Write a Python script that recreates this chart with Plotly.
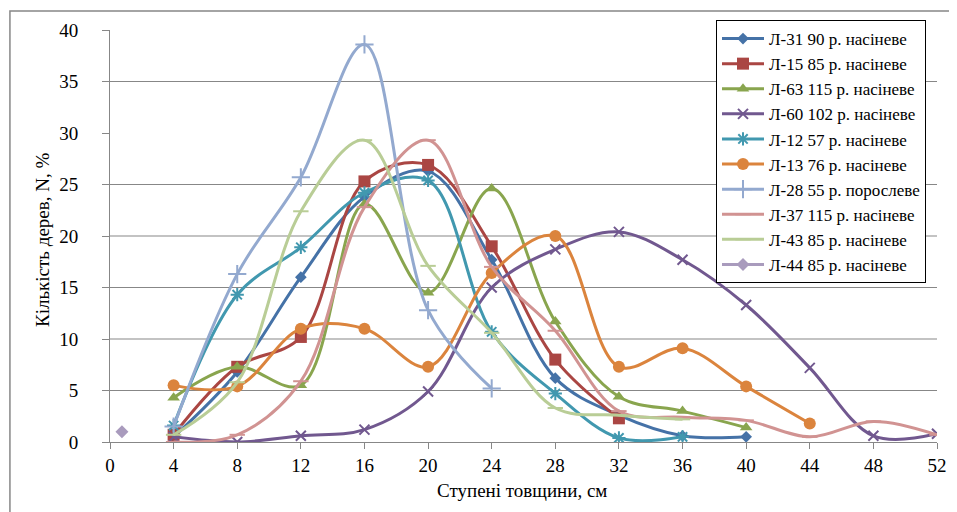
import plotly.graph_objects as go

x_steps = [4, 8, 12, 16, 20, 24, 28, 32, 36, 40, 44, 48, 52]

names = [
    "Л-31 90 р. насіневе",
    "Л-15 85 р. насіневе",
    "Л-63 115 р. насіневе",
    "Л-60 102 р. насіневе",
    "Л-12 57 р. насіневе",
    "Л-13 76 р. насіневе",
    "Л-28 55 р. порослеве",
    "Л-37 115 р. насіневе",
    "Л-43 85 р. насіневе",
    "Л-44 85 р. насіневе",
]

l31 = [0.5, 6.8, 16.0, 23.8, 26.3, 17.7, 6.2, 2.6, 0.6, 0.5]
l15 = [0.7, 7.3, 10.2, 25.3, 26.9, 19.0, 8.0, 2.3]
l63 = [4.3, 7.3, 5.5, 23.1, 14.5, 24.6, 11.7, 4.4, 3.0, 1.4]
l60 = [0.5, 0.0, 0.6, 1.2, 4.9, 15.0, 18.7, 20.4, 17.7, 13.3, 7.2, 0.6, 0.8]
l12 = [1.6, 14.3, 18.9, 24.2, 25.4, 10.7, 4.7, 0.4, 0.5]
l13 = [5.5, 5.4, 11.0, 11.0, 7.3, 16.4, 20.0, 7.3, 9.1, 5.4, 1.8]
l28 = [1.5, 16.3, 25.7, 38.6, 12.8, 5.2]
l37 = [0.0, 0.7, 5.9, 22.8, 29.3, 17.0, 10.8, 3.0, 2.4, 2.1, 0.5, 2.0, 0.7]
l43 = [0.7, 5.8, 22.4, 29.3, 17.1, 10.6, 3.3, 2.6, 2.2]
l44_x = [0.75]
l44 = [1.0]

y_ticks = [0, 5, 10, 15, 20, 25, 30, 35, 40]
y_grid = [5, 10, 15, 20, 25, 35]
x_ticks = [0, 4, 8, 12, 16, 20, 24, 28, 32, 36, 40, 44, 48, 52]

colors = ["#4572A7", "#AA4643", "#89A54E", "#71588F", "#4198AF",
          "#DB843D", "#93A9CF", "#D19392", "#B9CD96", "#A99BBD"]
symbols = ["diamond", "square", "triangle-up", "x-thin", "asterisk",
           "circle", "cross-thin", "line-ew", "line-ew", "diamond"]
sizes = [9, 12, 11, 10, 11, 12, 13, 11, 11, 10]

series = [(x_steps, l31), (x_steps, l15), (x_steps, l63), (x_steps, l60),
          (x_steps, l12), (x_steps, l13), (x_steps, l28), (x_steps, l37),
          (x_steps, l43), (l44_x, l44)]

FONT = "Liberation Serif"

fig = go.Figure()
for i, ((xs, ys), name) in enumerate(zip(series, names)):
    c = colors[i]
    thin = symbols[i] in ("x-thin", "asterisk", "cross-thin", "line-ew")
    fig.add_trace(go.Scatter(
        x=xs[:len(ys)], y=ys, name=name, mode="lines+markers",
        legendgroup=f"g{i}",
        line=dict(color=c, width=3, shape="spline", smoothing=1),
        marker=dict(symbol=symbols[i], size=sizes[i], color=c,
                    line=dict(color=c, width=2 if thin else 0)),
    ))

shapes = []
for g in y_grid:
    shapes.append(dict(type="line", xref="paper", yref="y", x0=0, x1=1,
                       y0=g, y1=g, line=dict(color="#878787", width=1), layer="below"))
# outer frame
shapes.append(dict(type="rect", xref="paper", yref="paper", x0=-0.121, x1=1.08,
                   y0=-0.25, y1=1.046, line=dict(color="#878787", width=1.5)))

annotations = [
    dict(text="Ступені товщини, см", xref="paper", yref="paper",
         x=(522 - 110) / 827, y=-(490 - 442) / 412, showarrow=False,
         xanchor="center", yanchor="middle", font=dict(family=FONT, size=19, color="black")),
    dict(text="Кількість дерев, N, %", xref="paper", yref="paper",
         x=-(110 - 42) / 827, y=(442 - 240) / 412, showarrow=False, textangle=-90,
         xanchor="center", yanchor="middle", font=dict(family=FONT, size=19, color="black")),
]

fig.update_layout(
    width=957, height=512,
    margin=dict(l=102, r=28, t=22, b=78),
    paper_bgcolor="white", plot_bgcolor="white",
    font=dict(family=FONT, color="black", size=15),
    shapes=shapes, annotations=annotations,
    showlegend=True,
    legend=dict(x=(716 - 110) / 827, y=(442 - 20) / 412,
                xanchor="left", yanchor="top", maxheight=330,
                bordercolor="black", borderwidth=1, bgcolor="white",
                font=dict(family=FONT, size=17, color="black"),
                tracegroupgap=0, itemwidth=42),
    xaxis=dict(range=[0, 52], tickvals=x_ticks, showgrid=False, zeroline=False,
               showline=True, linecolor="#878787", linewidth=1, automargin=False,
               ticks="outside", ticklen=6, tickcolor="#878787",
               tickfont=dict(family=FONT, size=19, color="black")),
    yaxis=dict(range=[0, 40], tickvals=y_ticks, showgrid=False, zeroline=False,
               showline=True, linecolor="#878787", linewidth=1, automargin=False,
               ticks="outside", ticklen=7, tickcolor="#878787", ticklabelstandoff=20,
               tickfont=dict(family=FONT, size=19, color="black")),
)

fig.write_html("out.html")
